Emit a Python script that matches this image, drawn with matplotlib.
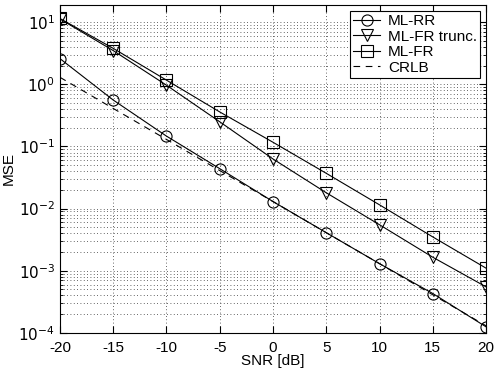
import matplotlib
matplotlib.use("Agg")
import matplotlib.pyplot as plt
from matplotlib.ticker import LogLocator, NullFormatter

plt.rcParams['font.family'] = ['Liberation Sans', 'DejaVu Sans']

snr = [-20, -15, -10, -5, 0, 5, 10, 15, 20]
ml_rr = [2.6, 0.56, 0.147, 0.044, 0.013, 0.0041, 0.0013, 0.00043, 0.000125]
ml_fr_trunc = [11.3, 3.5, 0.97, 0.25, 0.063, 0.018, 0.0055, 0.00165, 0.00055]
ml_fr = [11.5, 3.8, 1.17, 0.36, 0.117, 0.037, 0.0115, 0.0035, 0.0011]
crlb = [1.3, 0.41, 0.13, 0.041, 0.013, 0.0041, 0.0013, 0.00041, 0.00013]

xticks = [-20, -15, -10, -5, 0, 5, 10, 15, 20]
yticks = [1e-4, 1e-3, 1e-2, 1e-1, 1e0, 1e1]
ytick_labels = [r'$10^{-4}$', r'$10^{-3}$', r'$10^{-2}$', r'$10^{-1}$', r'$10^{0}$', r'$10^{1}$']

fig = plt.figure(figsize=(4.95, 3.77), dpi=100)
ax = fig.add_axes([0.121, 0.117, 0.861, 0.870])

mk = dict(color='black', lw=0.8, markersize=8, markerfacecolor='none', markeredgewidth=0.8)
ax.semilogy(snr, ml_rr, marker='o', label='ML-RR', **mk)
ax.semilogy(snr, ml_fr_trunc, marker='v', label='ML-FR trunc.', **mk)
ax.semilogy(snr, ml_fr, marker='s', label='ML-FR', **mk)
ax.semilogy(snr, crlb, color='black', lw=0.8, ls=(0, (6, 5)), label='CRLB')

ax.set_xlim(-20, 20)
ax.set_ylim(1e-4, 19)
ax.set_xticks(xticks)
ax.set_xticklabels([str(t) for t in xticks])
ax.set_yticks(yticks)
ax.set_yticklabels(ytick_labels)
ax.yaxis.set_minor_locator(LogLocator(base=10, subs=range(2, 10)))
ax.yaxis.set_minor_formatter(NullFormatter())

ax.grid(True, which='major', color='#333333', ls=(0, (1, 3)), lw=0.6)
ax.grid(True, which='minor', axis='y', color='#333333', ls=(0, (1, 3)), lw=0.6)

ax.tick_params(which='both', direction='in', top=True, right=True, labelsize=11)
ax.tick_params(which='major', length=5)
ax.tick_params(which='minor', length=2.5)
ax.tick_params(axis='x', pad=6)
for s in ax.spines.values():
    s.set_linewidth(0.8)

ax.set_xlabel('SNR [dB]', fontsize=11, labelpad=-1)
ax.set_ylabel('MSE', fontsize=11, labelpad=2)

leg = ax.legend(loc='upper right', fontsize=11, frameon=True, fancybox=False,
                edgecolor='black', framealpha=1, borderpad=0.2, labelspacing=0.1,
                handlelength=1.8, handletextpad=0.5, borderaxespad=0.4)
leg.get_frame().set_linewidth(0.8)

fig.savefig('out.png', dpi=100)
